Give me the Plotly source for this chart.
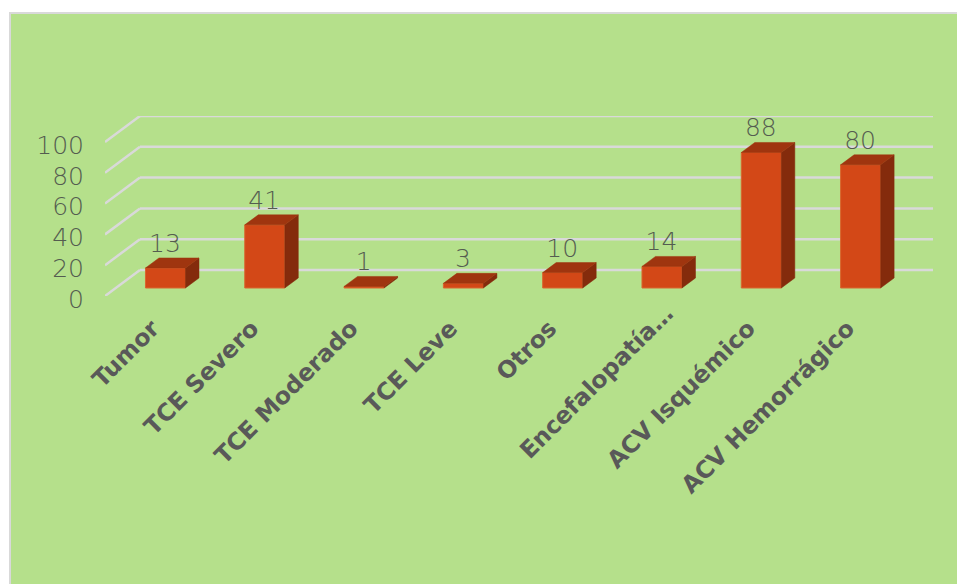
import plotly.graph_objects as go

categories = ["Tumor", "TCE Severo", "TCE Moderado", "TCE Leve", "Otros",
              "Encefalopatía…", "ACV Isquémico", "ACV Hemorrágico"]
values = [13, 41, 1, 3, 10, 14, 88, 80]
y_ticks = [0, 20, 40, 60, 80, 100]

# 3-D look, in axis units
BAR_W = 0.403
BASE = 5.2
BAR_DX = 0.136
BAR_DY = 6.5
WALL_DX = 0.352
WALL_DY = 16.9
X_MIN, X_MAX = -0.609, 7.729
Y_MAX = 116.9
LABEL_DX = -0.005
LABEL_DY = 14.5

# the truncated label sits apart from the others in the reference
TRUNCATED = 5
TRUNC_DX, TRUNC_PAPER_Y = -0.66, -0.478

FRONT, TOP, SIDE = "#D34817", "#9F350F", "#842B0C"
EDGE = "#D9662F"
GRID = "#D9D9D9"
BG = "#B5E08B"
TXT = "#545C50"
LBL = "#595959"
CAT_FONT = dict(family="DejaVu Sans", size=23.6, color=LBL, weight="bold")

idx = list(range(len(categories)))
fig = go.Figure()

fig.add_trace(go.Bar(x=idx, y=values, base=[BASE] * len(values), width=BAR_W,
                     marker=dict(color=FRONT, line=dict(color=EDGE, width=1)),
                     hoverinfo="skip", showlegend=False))

sx, sy, tx, ty = [], [], [], []
for i, v in zip(idx, values):
    l, r, b, t = i - BAR_W / 2, i + BAR_W / 2, BASE, BASE + v
    sx += [r, r + BAR_DX, r + BAR_DX, r, r, None]
    sy += [b, b + BAR_DY, t + BAR_DY, t, b, None]
    tx += [l, l + BAR_DX, r + BAR_DX, r, l, None]
    ty += [t, t + BAR_DY, t + BAR_DY, t, t, None]
for xs, ys, c in ((sx, sy, SIDE), (tx, ty, TOP)):
    fig.add_trace(go.Scatter(x=xs, y=ys, mode="lines", fill="toself", fillcolor=c,
                             line=dict(color=c, width=0.5), hoverinfo="skip",
                             showlegend=False, cliponaxis=False))

fig.add_trace(go.Scatter(x=[i + LABEL_DX for i in idx],
                         y=[BASE + v + LABEL_DY for v in values],
                         mode="text", text=[str(v) for v in values],
                         textposition="middle center",
                         textfont=dict(family="DejaVu Sans", size=25, color=TXT, weight=200),
                         hoverinfo="skip", showlegend=False, cliponaxis=False))

shapes = [dict(type="rect", xref="paper", yref="paper", layer="below",
               x0=(10 - 105) / 828, x1=1.2, y0=-2, y1=(296 - 13) / 180,
               fillcolor=BG, line=dict(color=GRID, width=2))]
for v in y_ticks:
    shapes.append(dict(type="line", xref="x", yref="y", layer="below",
                       x0=X_MIN, y0=v, x1=X_MIN + WALL_DX, y1=v + WALL_DY,
                       line=dict(color=GRID, width=2.5)))
    shapes.append(dict(type="line", xref="x", yref="y", layer="below",
                       x0=X_MIN + WALL_DX, y0=v + WALL_DY, x1=X_MAX, y1=v + WALL_DY,
                       line=dict(color=GRID, width=2.5)))

tick_text = ["" if i == TRUNCATED else c for i, c in zip(idx, categories)]

fig.update_layout(
    width=957, height=584, autosize=False,
    margin=dict(l=105, r=24, t=116, b=288, pad=0),
    paper_bgcolor="white", plot_bgcolor="rgba(0,0,0,0)",
    shapes=shapes, showlegend=False,
    annotations=[dict(x=TRUNCATED + TRUNC_DX, y=TRUNC_PAPER_Y, xref="x", yref="paper",
                      text=categories[TRUNCATED], textangle=-45, showarrow=False,
                      xanchor="center", yanchor="middle", font=CAT_FONT)],
    xaxis=dict(range=[X_MIN, X_MAX], tickmode="array", tickvals=idx, ticktext=tick_text,
               tickangle=-45, showgrid=False, zeroline=False, showline=False, ticks="",
               ticklabelstandoff=13, ticklabelshift=-13,
               tickfont=CAT_FONT,
               automargin=False, fixedrange=True),
    yaxis=dict(range=[0, Y_MAX], tickmode="array", tickvals=y_ticks,
               ticktext=[str(v) for v in y_ticks],
               showgrid=False, zeroline=False, showline=False, ticks="",
               ticklabelstandoff=20, ticklabelshift=3,
               tickfont=dict(family="DejaVu Sans", size=25, color=TXT, weight=200),
               automargin=False, fixedrange=True),
)

fig.write_html("out.html", config=dict(displayModeBar=False),
               post_script="document.body.style.margin='0';document.body.style.overflow='hidden';")
